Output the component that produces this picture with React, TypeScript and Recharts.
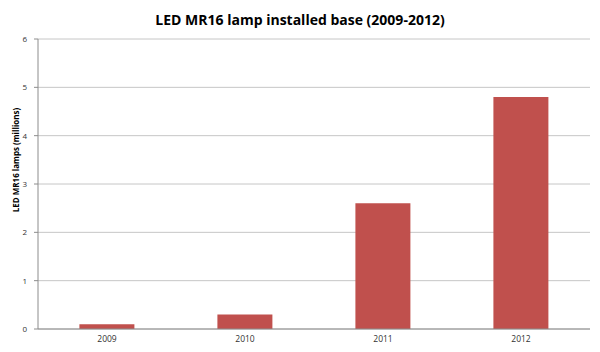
import React from 'react'
import { BarChart, Bar, XAxis, YAxis, CartesianGrid, Label } from 'recharts'

// installed base data
const years = ['2009', '2010', '2011', '2012']
const lamps = [0.1, 0.3, 2.6, 4.8]
const yTicks = [0, 1, 2, 3, 4, 5, 6]
const boundaryTicks = [0, 1, 2, 3, 4]

const chartData = years.map((year, i) => ({ year, lamps: lamps[i], pos: i + 0.5 }))

const font = '"Open Sans", Calibri, sans-serif'

export default function App() {
  return (
    <div style={{ position: 'absolute', left: 0, top: 0, width: 600, height: 352, background: '#fff', fontFamily: font }}>
      <div
        style={{
          position: 'absolute',
          top: 10,
          left: 0,
          width: 600,
          textAlign: 'center',
          fontWeight: 700,
          fontSize: 14,
          lineHeight: '20px',
          color: '#000',
        }}
      >
        LED MR16 lamp installed base (2009-2012)
      </div>

      <BarChart
        width={600}
        height={352}
        data={chartData}
        margin={{ top: 39, right: 10, bottom: 0, left: 0 }}
        barCategoryGap="30%"
      >
        <CartesianGrid vertical={false} stroke="#c6c6c6" strokeWidth={1} />

        {/* category axis for the bars and labels */}
        <XAxis
          xAxisId="cat"
          dataKey="year"
          axisLine={{ stroke: '#8c8c8c' }}
          tickLine={false}
          tick={{ fill: '#333', fontSize: 8.5, fontFamily: font }}
          tickSize={4}
          tickMargin={3}
          height={23}
        />
        {/* boundary ticks, Excel style */}
        <XAxis
          xAxisId="edge"
          type="number"
          dataKey="pos"
          domain={[0, 4]}
          ticks={boundaryTicks}
          tick={false}
          axisLine={false}
          tickLine={{ stroke: '#8c8c8c' }}
          tickSize={4}
          height={0}
        />

        <YAxis
          width={38}
          domain={[0, 6]}
          ticks={yTicks}
          interval={0}
          axisLine={{ stroke: '#8c8c8c' }}
          tickLine={{ stroke: '#8c8c8c' }}
          tickSize={4}
          tickMargin={7}
          tick={{ fill: '#333', fontSize: 8, fontFamily: font }}
        >
          <Label
            content={() => (
              <text
                x={19}
                y={160}
                transform="rotate(-90, 19, 160)"
                textAnchor="middle"
                fontFamily={font}
                fontSize={8}
                fontWeight={700}
                fill="#000"
              >
                LED MR16 lamps (millions)
              </text>
            )}
          />
        </YAxis>

        <Bar xAxisId="cat" dataKey="lamps" fill="#C0504D" isAnimationActive={false} />
      </BarChart>
    </div>
  )
}
